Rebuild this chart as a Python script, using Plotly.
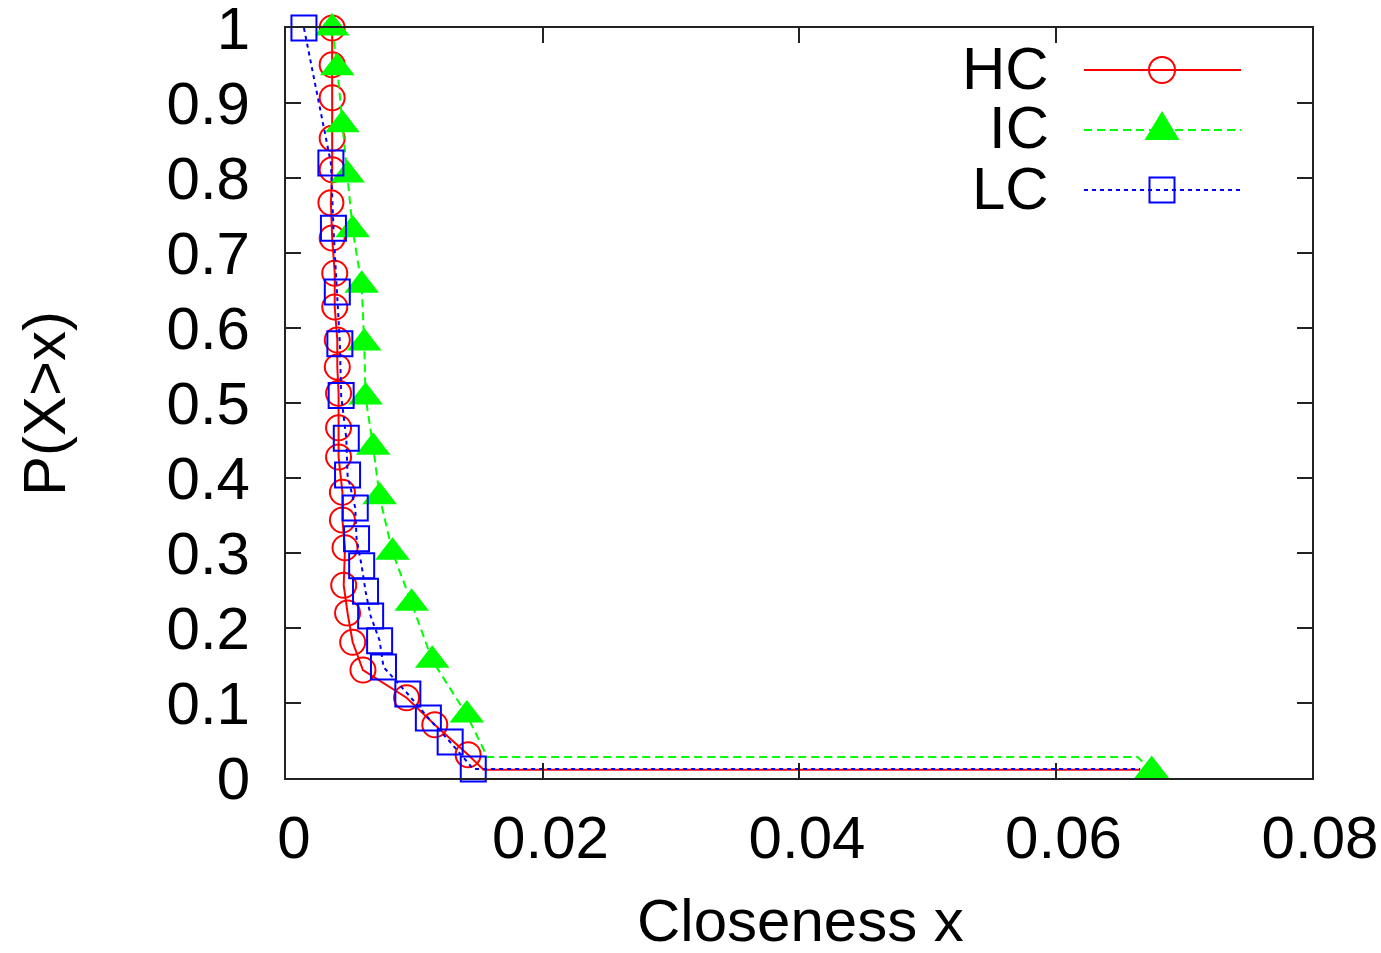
import plotly.graph_objects as go

# ---------------- data ----------------
hc_x = [0.0036, 0.0036, 0.0036, 0.0036, 0.0036, 0.0035, 0.0036, 0.0038, 0.0038, 0.0040,
        0.0040, 0.0041, 0.0041, 0.0041, 0.0044, 0.0044, 0.0046, 0.0045, 0.0048, 0.0052,
        0.0060, 0.0094, 0.0116, 0.0142]
hc_y = [1.0, 0.951, 0.907, 0.853, 0.811, 0.767, 0.72, 0.673, 0.628, 0.584,
        0.548, 0.513, 0.467, 0.428, 0.381, 0.344, 0.307, 0.257, 0.22, 0.181,
        0.144, 0.107, 0.071, 0.031]
hc_tail_x = [0.0154, 0.0666]
hc_tail_y = [0.011, 0.011]

ic_x = [0.0036, 0.0040, 0.0044, 0.0048, 0.0052, 0.0059, 0.0061, 0.0062, 0.0068, 0.0073,
        0.0083, 0.0098, 0.0114, 0.0141, 0.0675]
ic_y = [1.0, 0.947, 0.871, 0.804, 0.731, 0.657, 0.58, 0.508, 0.441, 0.375,
        0.301, 0.233, 0.157, 0.084, 0.01]
ic_tail_x = [0.0157, 0.0664]
ic_tail_y = [0.028, 0.028]

lc_x = [0.0014, 0.0035, 0.0037, 0.0040, 0.0042, 0.0043, 0.0047, 0.0048, 0.0054, 0.0055,
        0.0059, 0.0062, 0.0066, 0.0073, 0.0076, 0.0095, 0.0111, 0.0128, 0.0146]
lc_y = [1.0, 0.82, 0.733, 0.648, 0.579, 0.51, 0.453, 0.404, 0.36, 0.319,
        0.283, 0.249, 0.216, 0.183, 0.148, 0.112, 0.08, 0.048, 0.012]
lc_tail_x = [0.0666]
lc_tail_y = [0.012]

x_ticks = [0, 0.02, 0.04, 0.06, 0.08]
x_ticklabels = ["0", "0.02", "0.04", "0.06", "0.08"]
y_ticks = [0, 0.1, 0.2, 0.3, 0.4, 0.5, 0.6, 0.7, 0.8, 0.9, 1]
y_ticklabels = ["0", "0.1", "0.2", "0.3", "0.4", "0.5", "0.6", "0.7", "0.8", "0.9", "1"]

series_names = ["HC", "IC", "LC"]
x_title = "Closeness x"
y_title = "P(X>x)"

# ---------------- styling ----------------
FONT = "Liberation Sans"
FS = 60
RED, GREEN, BLUE = "#ff0000", "#00ff00", "#0000ff"

W, H = 1381, 953
L, R, T, B = 286, 1312, 28, 778  # plot area in pixels

fig = go.Figure()

fig.add_trace(go.Scatter(x=hc_x + hc_tail_x, y=hc_y + hc_tail_y, mode="lines",
                         line=dict(color=RED, width=2), showlegend=False, hoverinfo="skip",
                         cliponaxis=False))
fig.add_trace(go.Scatter(x=hc_x, y=hc_y, mode="markers", name="HC",
                         marker=dict(symbol="circle-open", size=25, color=RED,
                                     line=dict(color=RED, width=2)), showlegend=False,
                         cliponaxis=False))

fig.add_trace(go.Scatter(x=ic_x[:-1] + ic_tail_x + ic_x[-1:], y=ic_y[:-1] + ic_tail_y + ic_y[-1:],
                         mode="lines", line=dict(color=GREEN, width=2, dash="8px,5px"),
                         showlegend=False, hoverinfo="skip", cliponaxis=False))
fig.add_trace(go.Scatter(x=ic_x, y=ic_y, mode="markers", name="IC",
                         marker=dict(symbol="triangle-up", size=30, color=GREEN,
                                     line=dict(width=0)), showlegend=False, cliponaxis=False))

fig.add_trace(go.Scatter(x=lc_x + lc_tail_x, y=lc_y + lc_tail_y, mode="lines",
                         line=dict(color=BLUE, width=2, dash="4px,4px"),
                         showlegend=False, hoverinfo="skip", cliponaxis=False))
fig.add_trace(go.Scatter(x=lc_x, y=lc_y, mode="markers", name="LC",
                         marker=dict(symbol="square-open", size=25, color=BLUE,
                                     line=dict(color=BLUE, width=2)), showlegend=False,
                         cliponaxis=False))

# ---------------- gnuplot-style legend (text left, sample right) ----------------
def px(xpix):
    return (xpix - L) / (R - L)

def py(ypix):
    return (B - ypix) / (B - T)

rows = [70, 130, 190]
line_x0, line_x1, mark_x = 1084, 1241, 1162
text_right = 1051
shapes = []
annotations = []
styles = [(RED, "solid"), (GREEN, "8px,5px"), (BLUE, "4px,4px")]
for name, row, (col, dash) in zip(series_names, rows, styles):
    annotations.append(dict(x=px(text_right), y=py(row - 2), xref="paper", yref="paper",
                            text=name, showarrow=False, xanchor="right", yanchor="middle",
                            font=dict(family=FONT, size=FS, color="black")))
    shapes.append(dict(type="line", xref="paper", yref="paper",
                       x0=px(line_x0), x1=px(line_x1), y0=py(row), y1=py(row),
                       line=dict(color=col, width=2, dash=dash)))
shapes.append(dict(type="circle", xref="paper", yref="paper",
                   x0=px(mark_x - 13), x1=px(mark_x + 13), y0=py(rows[0] - 13), y1=py(rows[0] + 13),
                   line=dict(color=RED, width=2)))
tri = "M {},{} L {},{} L {},{} Z".format(px(mark_x), py(rows[1] - 19), px(mark_x - 17.5), py(rows[1] + 10),
                                         px(mark_x + 17.5), py(rows[1] + 10))
shapes.append(dict(type="path", xref="paper", yref="paper", path=tri,
                   fillcolor=GREEN, line=dict(color=GREEN, width=0)))
shapes.append(dict(type="rect", xref="paper", yref="paper",
                   x0=px(mark_x - 12.5), x1=px(mark_x + 12.5), y0=py(rows[2] - 12.5), y1=py(rows[2] + 12.5),
                   line=dict(color=BLUE, width=2)))

# axis titles
annotations.append(dict(x=px(800), y=py(920), xref="paper", yref="paper", text=x_title,
                        showarrow=False, xanchor="center", yanchor="middle",
                        font=dict(family=FONT, size=FS, color="black")))
annotations.append(dict(x=px(44), y=py(404), xref="paper", yref="paper", text=y_title,
                        showarrow=False, xanchor="center", yanchor="middle", textangle=-90,
                        font=dict(family=FONT, size=FS, color="black")))

axis_common = dict(showgrid=False, zeroline=False, showline=True, linecolor="#222222", linewidth=2,
                   mirror="ticks", ticks="inside", ticklen=15, tickwidth=2, tickcolor="#222222",
                   automargin=False, ticklabeloverflow="allow",
                   tickfont=dict(family=FONT, size=FS, color="black"))

fig.update_layout(
    width=W, height=H,
    margin=dict(l=L, r=W - R, t=T, b=H - B, pad=0, autoexpand=False),
    paper_bgcolor="white", plot_bgcolor="white",
    font=dict(family=FONT, size=FS, color="black"),
    showlegend=False,
    xaxis=dict(range=[0, 0.08], tickvals=x_ticks, ticktext=x_ticklabels,
               ticklabelstandoff=6, ticklabelshift=8, **axis_common),
    yaxis=dict(range=[0, 1], tickvals=y_ticks, ticktext=y_ticklabels,
               ticklabelstandoff=22, **axis_common),
    shapes=shapes,
    annotations=annotations,
)

fig.write_html("out.html")
